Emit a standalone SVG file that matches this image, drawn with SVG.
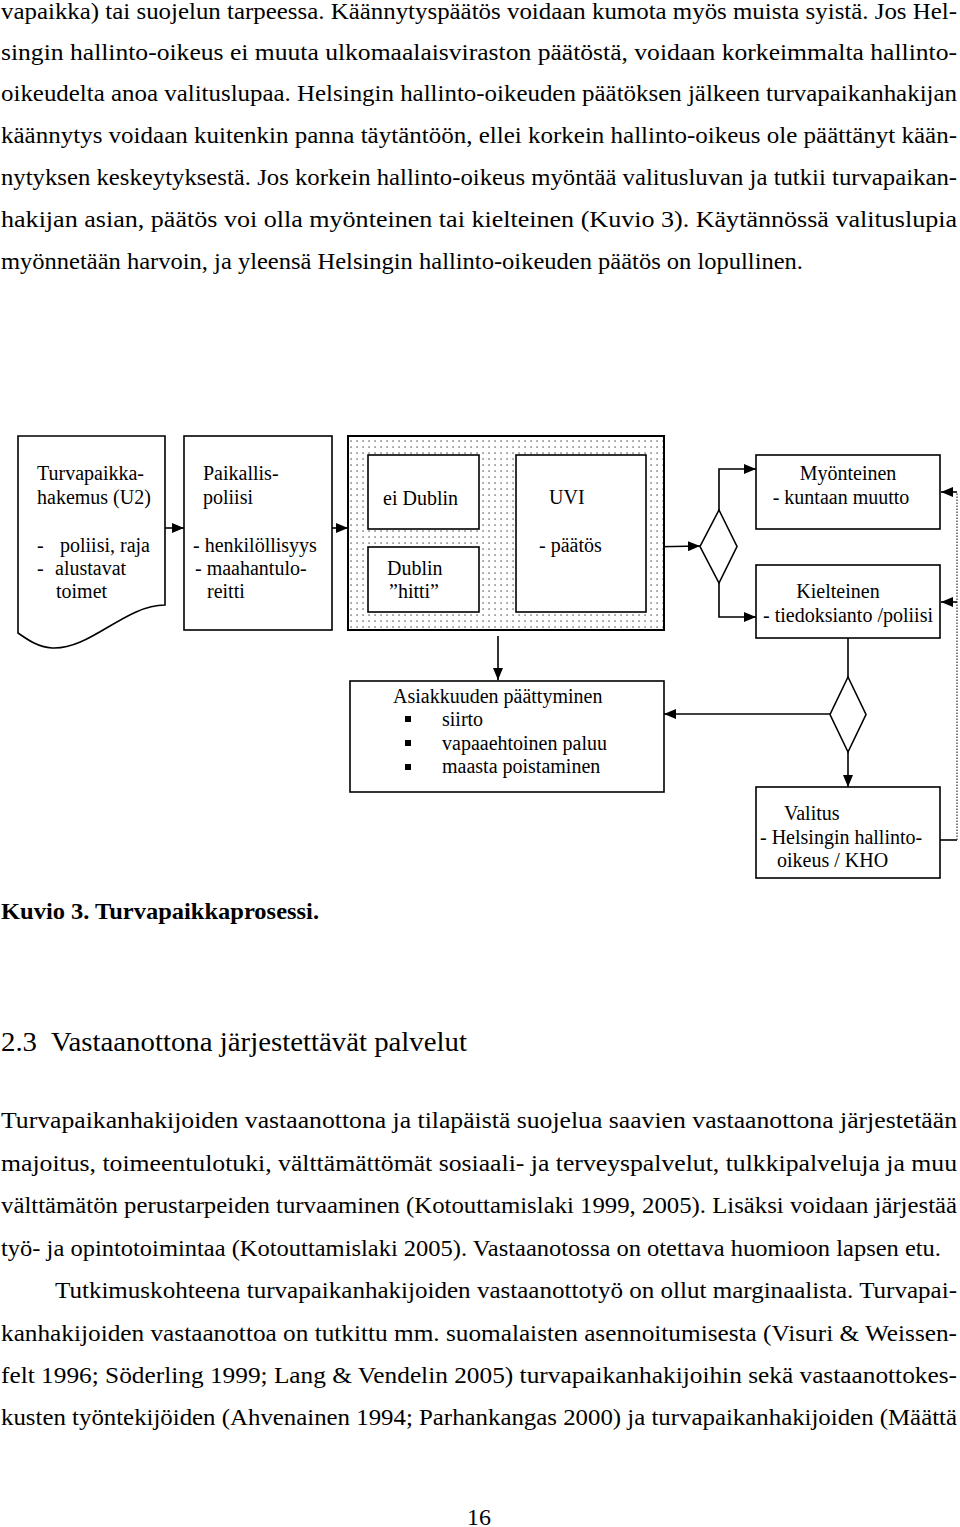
<svg xmlns="http://www.w3.org/2000/svg" width="960" height="1527" viewBox="0 0 960 1527">
<style>
  .body { font-family: "Liberation Serif", "Times New Roman", serif; font-size: 24px; fill: #000; }
  .cap { font-family: "Liberation Serif", "Times New Roman", serif; font-size: 23px; font-weight: bold; fill: #000; }
  .head { font-family: "Liberation Serif", "Times New Roman", serif; font-size: 27px; fill: #000; }
  .t { font-family: "Liberation Serif", "Times New Roman", serif; font-size: 20px; fill: #000; }
  .box { fill: #fff; stroke: #000; stroke-width: 1.6; }
  .conn { fill: none; stroke: #000; stroke-width: 1.6; }
  .dotline { fill: none; stroke: #333; stroke-width: 1.2; stroke-dasharray: 1.5 1.5; }
</style>
<defs>
  <pattern id="dots" width="6" height="6" patternUnits="userSpaceOnUse">
    <rect width="6" height="6" fill="#fff"/>
    <rect x="2.5" y="2.5" width="1.1" height="1.1" fill="#000"/>
  </pattern>
  <marker id="arr" viewBox="0 0 12 10" refX="12" refY="5" markerWidth="12" markerHeight="10" markerUnits="userSpaceOnUse" orient="auto">
    <path d="M0,0 L12,5 L0,10 z" fill="#000"/>
  </marker>
</defs>
<rect width="960" height="1527" fill="#fff"/>

<g id="body-top">
  <text class="body" x="1" y="19" textLength="956" lengthAdjust="spacingAndGlyphs">vapaikka) tai suojelun tarpeessa. Käännytyspäätös voidaan kumota myös muista syistä. Jos Hel-</text>
  <text class="body" x="1" y="60" textLength="956" lengthAdjust="spacingAndGlyphs">singin hallinto-oikeus ei muuta ulkomaalaisviraston päätöstä, voidaan korkeimmalta hallinto-</text>
  <text class="body" x="1" y="101" textLength="956" lengthAdjust="spacingAndGlyphs">oikeudelta anoa valituslupaa. Helsingin hallinto-oikeuden päätöksen jälkeen turvapaikanhakijan</text>
  <text class="body" x="1" y="143" textLength="956" lengthAdjust="spacingAndGlyphs">käännytys voidaan kuitenkin panna täytäntöön, ellei korkein hallinto-oikeus ole päättänyt kään-</text>
  <text class="body" x="1" y="185" textLength="956" lengthAdjust="spacingAndGlyphs">nytyksen keskeytyksestä. Jos korkein hallinto-oikeus myöntää valitusluvan ja tutkii turvapaikan-</text>
  <text class="body" x="1" y="227" textLength="956" lengthAdjust="spacingAndGlyphs">hakijan asian, päätös voi olla myönteinen tai kielteinen (Kuvio 3). Käytännössä valituslupia</text>
  <text class="body" x="1" y="269" textLength="802" lengthAdjust="spacingAndGlyphs">myönnetään harvoin, ja yleensä Helsingin hallinto-oikeuden päätös on lopullinen.</text>
</g>

<g id="connectors">
  <path class="conn" d="M165,528 H184" marker-end="url(#arr)"/>
  <path class="conn" d="M332,528 H348" marker-end="url(#arr)"/>
  <path class="conn" d="M479,509 H516" marker-end="url(#arr)"/>
  <path class="conn" d="M479,583 H516" marker-end="url(#arr)"/>
  <path class="conn" d="M646,547 L700,546" marker-end="url(#arr)"/>
  <path class="conn" d="M719,510 V469 H756" marker-end="url(#arr)"/>
  <path class="conn" d="M719,583 V617 H756" marker-end="url(#arr)"/>
  <path class="conn" d="M498,636 V680" marker-end="url(#arr)"/>
  <path class="conn" d="M848,638 V677"/>
  <path class="conn" d="M830,714 H664" marker-end="url(#arr)"/>
  <path class="conn" d="M848,752 V787" marker-end="url(#arr)"/>
  <path class="conn" d="M940,840 H957"/>
  <path class="dotline" d="M957,840 V492"/>
  <path class="conn" d="M957,492 H941" marker-end="url(#arr)"/>
  <path class="conn" d="M957,602 H941" marker-end="url(#arr)"/>
</g>

<g id="hakemus">
  <path class="box" d="M18,436 H165 V605 C125,605 90,650 52,648 C38,647 28,640 18,633 Z"/>
  <text class="t" x="37" y="480">Turvapaikka-</text>
  <text class="t" x="37" y="504">hakemus (U2)</text>
  <text class="t" x="37" y="552">-</text>
  <text class="t" x="60" y="552">poliisi, raja</text>
  <text class="t" x="37" y="575">-</text>
  <text class="t" x="55" y="575">alustavat</text>
  <text class="t" x="56" y="598">toimet</text>
</g>

<g id="paikallispoliisi">
  <rect class="box" x="184" y="436" width="148" height="194"/>
  <text class="t" x="203" y="480">Paikallis-</text>
  <text class="t" x="203" y="504">poliisi</text>
  <text class="t" x="193" y="552">- henkilöllisyys</text>
  <text class="t" x="195" y="575">- maahantulo-</text>
  <text class="t" x="207" y="598">reitti</text>
</g>

<g id="uvi-kasittely">
  <rect x="348" y="436" width="316" height="194" fill="url(#dots)" stroke="#000" stroke-width="2"/>
</g>

<g id="ei-dublin">
  <rect class="box" x="368" y="455" width="111" height="74"/>
  <text class="t" x="383" y="505">ei Dublin</text>
</g>

<g id="dublin-hitti">
  <rect class="box" x="368" y="547" width="111" height="65"/>
  <text class="t" x="387" y="575">Dublin</text>
  <text class="t" x="389" y="598">”hitti”</text>
</g>

<g id="uvi">
  <rect class="box" x="516" y="455" width="130" height="157"/>
  <text class="t" x="549" y="504">UVI</text>
  <text class="t" x="539" y="552">- päätös</text>
</g>

<g id="paatos-haara">
  <path class="box" d="M719,510 L737,546.5 L719,583 L700,546.5 Z"/>
</g>

<g id="myonteinen">
  <rect class="box" x="756" y="455" width="184" height="74"/>
  <text class="t" x="848" y="480" text-anchor="middle">Myönteinen</text>
  <text class="t" x="841" y="504" text-anchor="middle">- kuntaan muutto</text>
</g>

<g id="kielteinen">
  <rect class="box" x="756" y="565" width="184" height="73"/>
  <text class="t" x="838" y="598" text-anchor="middle">Kielteinen</text>
  <text class="t" x="848" y="622" text-anchor="middle">- tiedoksianto /poliisi</text>
</g>

<g id="asiakkuuden-paattyminen">
  <rect class="box" x="350" y="681" width="314" height="111"/>
  <text class="t" x="393" y="703">Asiakkuuden päättyminen</text>
  <rect x="405" y="716" width="6" height="6" fill="#000"/>
  <rect x="405" y="740" width="6" height="6" fill="#000"/>
  <rect x="405" y="764" width="6" height="6" fill="#000"/>
  <text class="t" x="442" y="726">siirto</text>
  <text class="t" x="442" y="750">vapaaehtoinen paluu</text>
  <text class="t" x="442" y="773">maasta poistaminen</text>
</g>

<g id="valitus-haara">
  <path class="box" d="M848,677 L866,714.5 L848,752 L830,714.5 Z"/>
</g>

<g id="valitus">
  <rect class="box" x="756" y="787" width="184" height="91"/>
  <text class="t" x="784" y="820">Valitus</text>
  <text class="t" x="760" y="844">- Helsingin hallinto-</text>
  <text class="t" x="777" y="867">oikeus / KHO</text>
</g>

<g id="caption">
  <text class="cap" x="1" y="919" textLength="318" lengthAdjust="spacingAndGlyphs">Kuvio 3. Turvapaikkaprosessi.</text>
</g>

<g id="body-bottom">
  <text class="head" x="1" y="1051" textLength="466" lengthAdjust="spacingAndGlyphs" xml:space="preserve">2.3  Vastaanottona järjestettävät palvelut</text>
  <text class="body" x="1" y="1128" textLength="956" lengthAdjust="spacingAndGlyphs">Turvapaikanhakijoiden vastaanottona ja tilapäistä suojelua saavien vastaanottona järjestetään</text>
  <text class="body" x="1" y="1171" textLength="956" lengthAdjust="spacingAndGlyphs">majoitus, toimeentulotuki, välttämättömät sosiaali- ja terveyspalvelut, tulkkipalveluja ja muu</text>
  <text class="body" x="1" y="1213" textLength="956" lengthAdjust="spacingAndGlyphs">välttämätön perustarpeiden turvaaminen (Kotouttamislaki 1999, 2005). Lisäksi voidaan järjestää</text>
  <text class="body" x="1" y="1256" textLength="940" lengthAdjust="spacingAndGlyphs">työ- ja opintotoimintaa (Kotouttamislaki 2005). Vastaanotossa on otettava huomioon lapsen etu.</text>
  <text class="body" x="55" y="1298" textLength="902" lengthAdjust="spacingAndGlyphs">Tutkimuskohteena turvapaikanhakijoiden vastaanottotyö on ollut marginaalista. Turvapai-</text>
  <text class="body" x="1" y="1341" textLength="956" lengthAdjust="spacingAndGlyphs">kanhakijoiden vastaanottoa on tutkittu mm. suomalaisten asennoitumisesta (Visuri &amp; Weissen-</text>
  <text class="body" x="1" y="1383" textLength="956" lengthAdjust="spacingAndGlyphs">felt 1996; Söderling 1999; Lang &amp; Vendelin 2005) turvapaikanhakijoihin sekä vastaanottokes-</text>
  <text class="body" x="1" y="1425" textLength="956" lengthAdjust="spacingAndGlyphs">kusten työntekijöiden (Ahvenainen 1994; Parhankangas 2000) ja turvapaikanhakijoiden (Määttä</text>
  <text class="body" x="479" y="1525" text-anchor="middle">16</text>
</g>
</svg>
